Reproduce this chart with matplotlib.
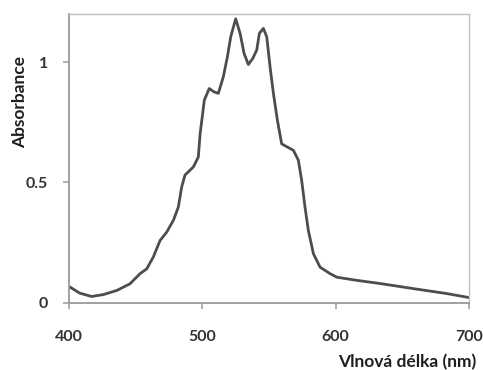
import matplotlib
matplotlib.use('Agg')
import matplotlib.pyplot as plt

# Spektrum
wavelength = [400, 400.8, 408, 417, 425.8, 435.8, 445.8, 453.3, 458.3, 463.3,
              468.3, 473.3, 478.3, 482, 484.5, 487, 493.3, 497, 498.3, 501.5,
              505.2, 508.8, 512, 515.8, 518.8, 521.3, 525, 528.3, 531.3, 534.5,
              537.8, 540.8, 542.8, 545.8, 548.3, 550.8, 553.3, 556.3, 559.5,
              563.3, 568.3, 572, 574.5, 577, 579.5, 583.3, 588.3, 595.8, 601,
              616, 633.3, 658, 683.5, 698.5, 700]
absorbance = [0.066, 0.064, 0.039, 0.025, 0.033, 0.05, 0.078, 0.12, 0.14, 0.19,
              0.258, 0.293, 0.342, 0.397, 0.48, 0.53, 0.564, 0.605, 0.7, 0.842,
              0.89, 0.876, 0.87, 0.94, 1.022, 1.105, 1.18, 1.12, 1.036, 0.99,
              1.015, 1.05, 1.12, 1.14, 1.105, 0.98, 0.87, 0.758, 0.66, 0.648,
              0.633, 0.592, 0.508, 0.397, 0.30, 0.203, 0.147, 0.12, 0.105,
              0.092, 0.079, 0.058, 0.037, 0.022, 0.02]

x_ticks = [400, 500, 600, 700]
y_ticks = [0, 0.5, 1]
y_tick_labels = ['0', '0.5', '1']

plt.rcParams['font.family'] = ['Lato', 'DejaVu Sans']

fig = plt.figure(figsize=(4.83, 3.70), dpi=100)
ax = fig.add_axes([69 / 483, 1 - 302.5 / 370, 400 / 483, 288.5 / 370])

ax.plot(wavelength, absorbance, color='#4d4d4d', linewidth=2.0,
        solid_joinstyle='round', solid_capstyle='round')

ax.set_xlim(400, 700)
ax.set_ylim(0, 1.2)
ax.set_xticks(x_ticks)
ax.set_yticks(y_ticks)
ax.set_yticklabels(y_tick_labels)

for side in ['left', 'bottom']:
    ax.spines[side].set_color('#9a9a9a')
    ax.spines[side].set_linewidth(1.3)
for side in ['top', 'right']:
    ax.spines[side].set_color('#c0c0c0')
    ax.spines[side].set_linewidth(1.0)

ax.tick_params(axis='x', direction='out', length=4, width=1.1, color='#9a9a9a',
               pad=16, labelsize=11.5, labelcolor='#333333')
ax.tick_params(axis='y', direction='out', length=4, width=1.1, color='#9a9a9a',
               pad=11, labelsize=11.5, labelcolor='#333333')
for lab in ax.get_xticklabels() + ax.get_yticklabels():
    lab.set_fontweight('bold')

fig.text(20 / 483, 1 - 102 / 370, 'Absorbance', rotation=90, ha='center', va='center',
         fontsize=12.5, fontweight='bold', color='#1e1e1e')
fig.text(476 / 483, 1 - 362 / 370, 'Vlnová délka (nm)', ha='right', va='center',
         fontsize=12.5, fontweight='bold', color='#1e1e1e')

fig.savefig('out.png', dpi=100)
